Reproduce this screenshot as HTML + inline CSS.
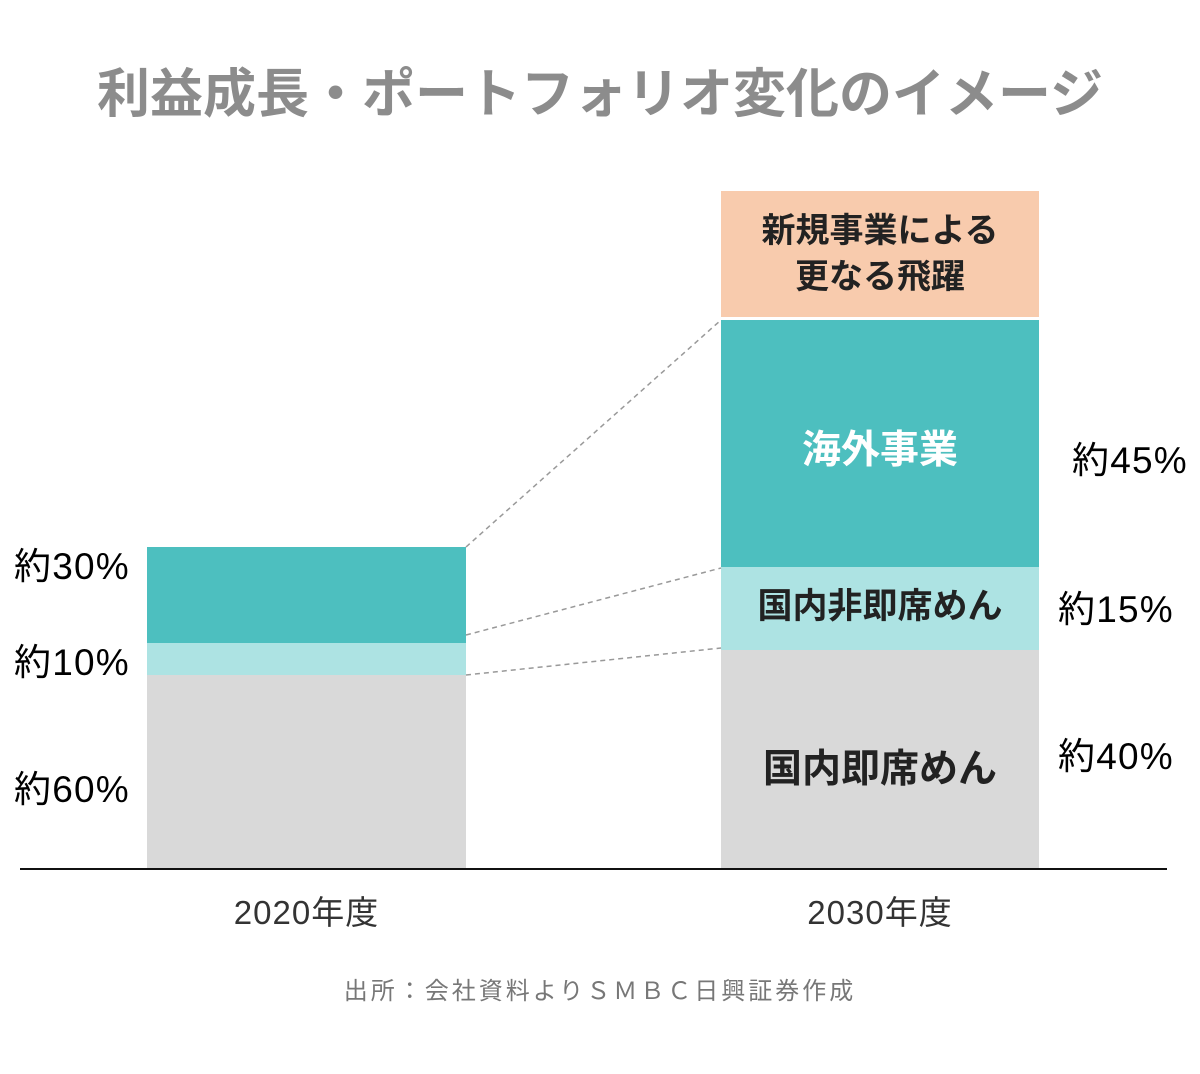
<!DOCTYPE html>
<html><head><meta charset="utf-8"><style>
html,body{margin:0;padding:0;background:#fff;}
body{width:1200px;height:1074px;position:relative;overflow:hidden;font-family:"Liberation Sans","Noto Sans CJK JP",sans-serif;}
.t{position:absolute;white-space:nowrap;line-height:1;}
.r{position:absolute;}
.p{font-size:37px;letter-spacing:1.2px;}
</style></head><body>
<div class="t" style="left:0;width:1200px;text-align:center;top:68px;font-size:53px;font-weight:bold;color:#8c8c8c;">利益成長・ポートフォリオ変化のイメージ</div>

<div class="r" style="left:147px;top:547px;width:319px;height:96px;background:#4dbfbf"></div>
<div class="r" style="left:147px;top:643px;width:319px;height:32px;background:#ade3e3"></div>
<div class="r" style="left:147px;top:675px;width:319px;height:193px;background:#d9d9d9"></div>

<div class="r" style="left:721px;top:191px;width:318px;height:126px;background:#f8cbad"></div>
<div class="r" style="left:721px;top:320px;width:318px;height:247px;background:#4dbfbf"></div>
<div class="r" style="left:721px;top:567px;width:318px;height:83px;background:#ade3e3"></div>
<div class="r" style="left:721px;top:650px;width:318px;height:218px;background:#d9d9d9"></div>

<svg class="r" style="left:0;top:0" width="1200" height="1074">
<g stroke="#999" stroke-width="1.5" stroke-dasharray="5,4" fill="none">
<line x1="466" y1="547" x2="721" y2="320"/>
<line x1="466" y1="635" x2="721" y2="568"/>
<line x1="466" y1="675" x2="721" y2="648"/>
</g>
<line x1="20" y1="869" x2="1167" y2="869" stroke="#111" stroke-width="2"/>
</svg>

<div class="t p" style="left:14px;top:548px;">約30%</div>
<div class="t p" style="left:14px;top:644px;">約10%</div>
<div class="t p" style="left:14px;top:771px;">約60%</div>
<div class="t p" style="left:1072px;top:442px;">約45%</div>
<div class="t p" style="left:1058px;top:591px;">約15%</div>
<div class="t p" style="left:1058px;top:738px;">約40%</div>

<div class="t" style="left:721px;width:318px;text-align:center;top:214px;font-size:34px;font-weight:bold;color:#222;">新規事業による</div>
<div class="t" style="left:721px;width:318px;text-align:center;top:260px;font-size:34px;font-weight:bold;color:#222;">更なる飛躍</div>
<div class="t" style="left:721px;width:318px;text-align:center;top:431px;font-size:39px;font-weight:bold;color:#fff;">海外事業</div>
<div class="t" style="left:721px;width:318px;text-align:center;top:589px;font-size:35px;font-weight:bold;color:#222;">国内非即席めん</div>
<div class="t" style="left:721px;width:318px;text-align:center;top:750px;font-size:39px;font-weight:bold;color:#222;">国内即席めん</div>

<div class="t" style="left:147px;width:319px;text-align:center;top:896px;font-size:33px;letter-spacing:1px;color:#333;">2020年度</div>
<div class="t" style="left:721px;width:318px;text-align:center;top:896px;font-size:33px;letter-spacing:1px;color:#333;">2030年度</div>

<div class="t" style="left:0;width:1200px;text-align:center;top:980px;font-size:24px;color:#777;letter-spacing:3px;">出所：会社資料よりＳＭＢＣ日興証券作成</div>
</body></html>
